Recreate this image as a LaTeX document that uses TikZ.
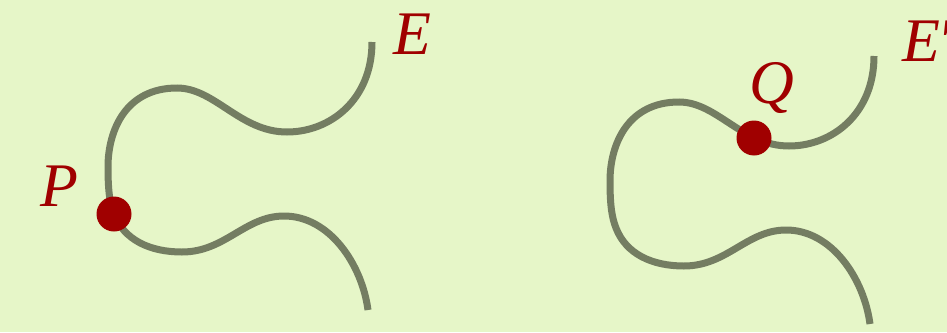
\documentclass[tikz,border=0pt]{standalone}
\usepackage{fontspec}
\setmainfont{Liberation Serif}
\usepackage{xcolor}
\definecolor{cBack}{HTML}{E6F6C8}
\definecolor{cCurve}{HTML}{747D62}
\definecolor{cMark}{HTML}{A00000}
\usepackage{tikz}
\tikzset{
  curve-line/.style={draw=cCurve,line width=7pt},
  mark-dot/.style={circle,fill=cMark,inner sep=0pt,minimum size=35pt},
  mark-label/.style={text=cMark,font=\fontsize{62}{62}\selectfont\itshape,
    inner sep=0pt,anchor=base},
}
\begin{document}
\begin{tikzpicture}[x=1pt,y=-1pt]
  \fill[cBack] (0,0) rectangle (947,332);
  \useasboundingbox (0,0) rectangle (947,332);
  % the same curve twice, the second one shifted
  \foreach \dx/\dy in {0/0,502/14} {
    \draw[curve-line,shift={(\dx,\dy)}] (372,42)
      .. controls (372,100) and (330,132) .. (287,132)
      .. controls (240,132) and (215,88) .. (177,88)
      .. controls (126,88) and (108,130) .. (108,167)
      .. controls (108,192) and (110,204) .. (114,214)
      .. controls (124,240) and (150,252) .. (182,252)
      .. controls (225,252) and (245,216) .. (284,216)
      .. controls (330,216) and (362,265) .. (368,310);
  }
  \node[mark-dot] (P) at (114,214) {};
  \node[mark-dot] (Q) at (754,138) {};
  \node[mark-label] (lblP) at (59,206) {P};
  \node[mark-label] (lblE) at (412,54) {E};
  \node[mark-label] (lblQ) at (772,103) {Q};
  \node[mark-label,anchor=base west] (lblE2) at (902,61) {E\kern-3pt′};
\end{tikzpicture}
\end{document}
